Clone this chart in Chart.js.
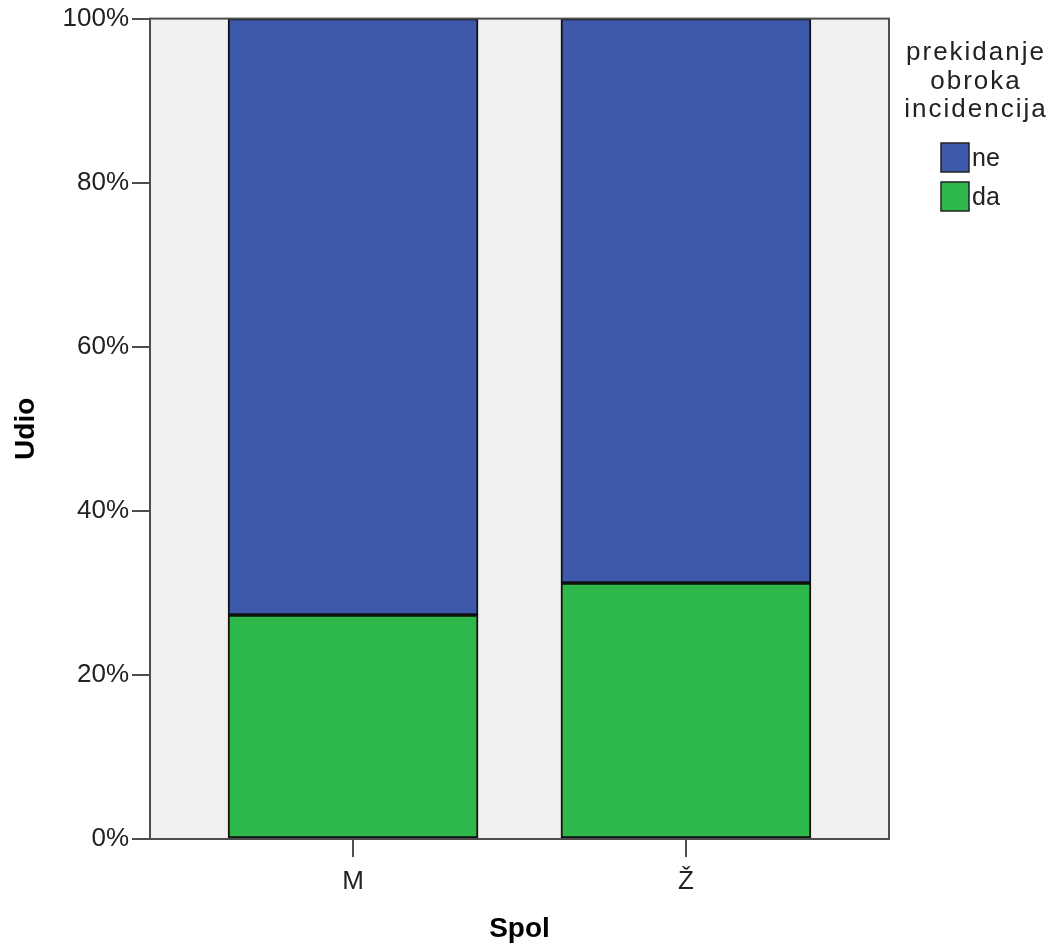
<!DOCTYPE html>
<html>
<head>
<meta charset="utf-8">
<script src="https://cdn.jsdelivr.net/npm/chart.js@4.4.0/dist/chart.umd.min.js"></script>
<style>
  html, body { margin: 0; padding: 0; background: #ffffff; }
  #wrap { position: relative; width: 1051px; height: 950px; }
</style>
</head>
<body>
<div id="wrap"><canvas id="c" width="1051" height="950"></canvas></div>
<script>
// ---- data ----
const categories = ['M', 'Ž'];
const daValues = [27.3, 31.2];
const neValues = [72.7, 68.8];
const yTicks = [0, 20, 40, 60, 80, 100];
const seriesNames = ['da', 'ne'];
const legendTitle = ['prekidanje', 'obroka', 'incidencija'];
const xTitle = 'Spol';
const yTitle = 'Udio';

const colors = { da: '#2EB84B', ne: '#3E58AC' };
const FONT = '"Liberation Sans", Arial, sans-serif';

const plotFrame = {
  id: 'plotFrame',
  beforeDatasetsDraw(chart) {
    const { ctx, chartArea: a } = chart;
    ctx.save();
    ctx.fillStyle = '#F0F0F0';
    ctx.fillRect(a.left, a.top, a.right - a.left, a.bottom - a.top);
    ctx.restore();
  },
  afterDatasetsDraw(chart) {
    const { ctx, chartArea: a } = chart;
    ctx.save();
    ctx.strokeStyle = '#4d4d4d';
    ctx.lineWidth = 2;
    ctx.strokeRect(a.left, a.top, a.right - a.left, a.bottom - a.top);
    ctx.restore();
  },
  afterDraw(chart) {
    const { ctx } = chart;
    ctx.save();
    ctx.fillStyle = '#222';
    ctx.font = '26px ' + FONT;
    ctx.textAlign = 'center';
    ctx.textBaseline = 'middle';
    if ('letterSpacing' in ctx) ctx.letterSpacing = '2px';
    legendTitle.forEach((t, i) => ctx.fillText(t, 976, 53 + i * 28.5));
    if ('letterSpacing' in ctx) ctx.letterSpacing = '0px';
    ctx.font = '25px ' + FONT;
    const ds = chart.data.datasets.slice().reverse();
    ds.forEach((d, i) => {
      const y = 143 + i * 39;
      ctx.fillStyle = d.backgroundColor;
      ctx.fillRect(941, y, 28, 29);
      ctx.strokeStyle = '#222';
      ctx.lineWidth = 1.5;
      ctx.strokeRect(941, y, 28, 29);
      ctx.fillStyle = '#222';
      ctx.textAlign = 'left';
      ctx.fillText(d.label, 972, y + 16);
    });
    ctx.restore();
  }
};

new Chart(document.getElementById('c'), {
  type: 'bar',
  data: {
    datasets: [
      {
        label: seriesNames[0],
        data: categories.map((c, i) => ({ x: i, y: daValues[i] })),
        backgroundColor: colors.da,
        borderColor: '#111',
        borderWidth: 2,
        borderSkipped: false,
        barThickness: 250
      },
      {
        label: seriesNames[1],
        data: categories.map((c, i) => ({ x: i, y: neValues[i] })),
        backgroundColor: colors.ne,
        borderColor: '#111',
        borderWidth: 2,
        borderSkipped: false,
        barThickness: 250
      }
    ]
  },
  options: {
    responsive: false,
    animation: false,
    devicePixelRatio: 1,
    layout: { padding: { top: 17, right: 162, left: 0, bottom: 0 } },
    plugins: { legend: { display: false }, tooltip: { enabled: false } },
    scales: {
      x: {
        type: 'linear',
        stacked: true,
        offset: false,
        min: -0.61,
        max: 1.61,
        afterBuildTicks(scale) { scale.ticks = categories.map((c, i) => ({ value: i })); },
        afterFit(scale) { scale.height = 111; },
        ticks: {
          callback: (v) => categories[v] ?? '',
          color: '#222',
          font: { family: FONT, size: 26 },
          padding: 9,
          maxRotation: 0
        },
        grid: { offset: false, drawOnChartArea: false, drawTicks: true, tickLength: 18, color: '#4d4d4d', lineWidth: 2 },
        border: { display: true, color: '#4d4d4d', width: 2 },
        title: { display: true, text: xTitle, color: '#000', font: { family: FONT, size: 28, weight: 'bold' }, padding: { top: 0, bottom: 4 } }
      },
      y: {
        stacked: true,
        min: 0,
        max: 100,
        afterBuildTicks(scale) { scale.ticks = yTicks.map(v => ({ value: v })); },
        afterFit(scale) { scale.width = 150; },
        ticks: {
          callback: (v) => v + '%',
          color: '#222',
          font: { family: FONT, size: 26 },
          padding: 3
        },
        grid: { drawOnChartArea: false, drawTicks: true, tickLength: 18, color: '#4d4d4d', lineWidth: 2 },
        border: { display: true, color: '#4d4d4d', width: 2 },
        title: { display: true, text: yTitle, color: '#000', font: { family: FONT, size: 28, weight: 'bold' }, padding: { top: 9, bottom: 0 } }
      }
    }
  },
  plugins: [plotFrame]
});
</script>
</body>
</html>
